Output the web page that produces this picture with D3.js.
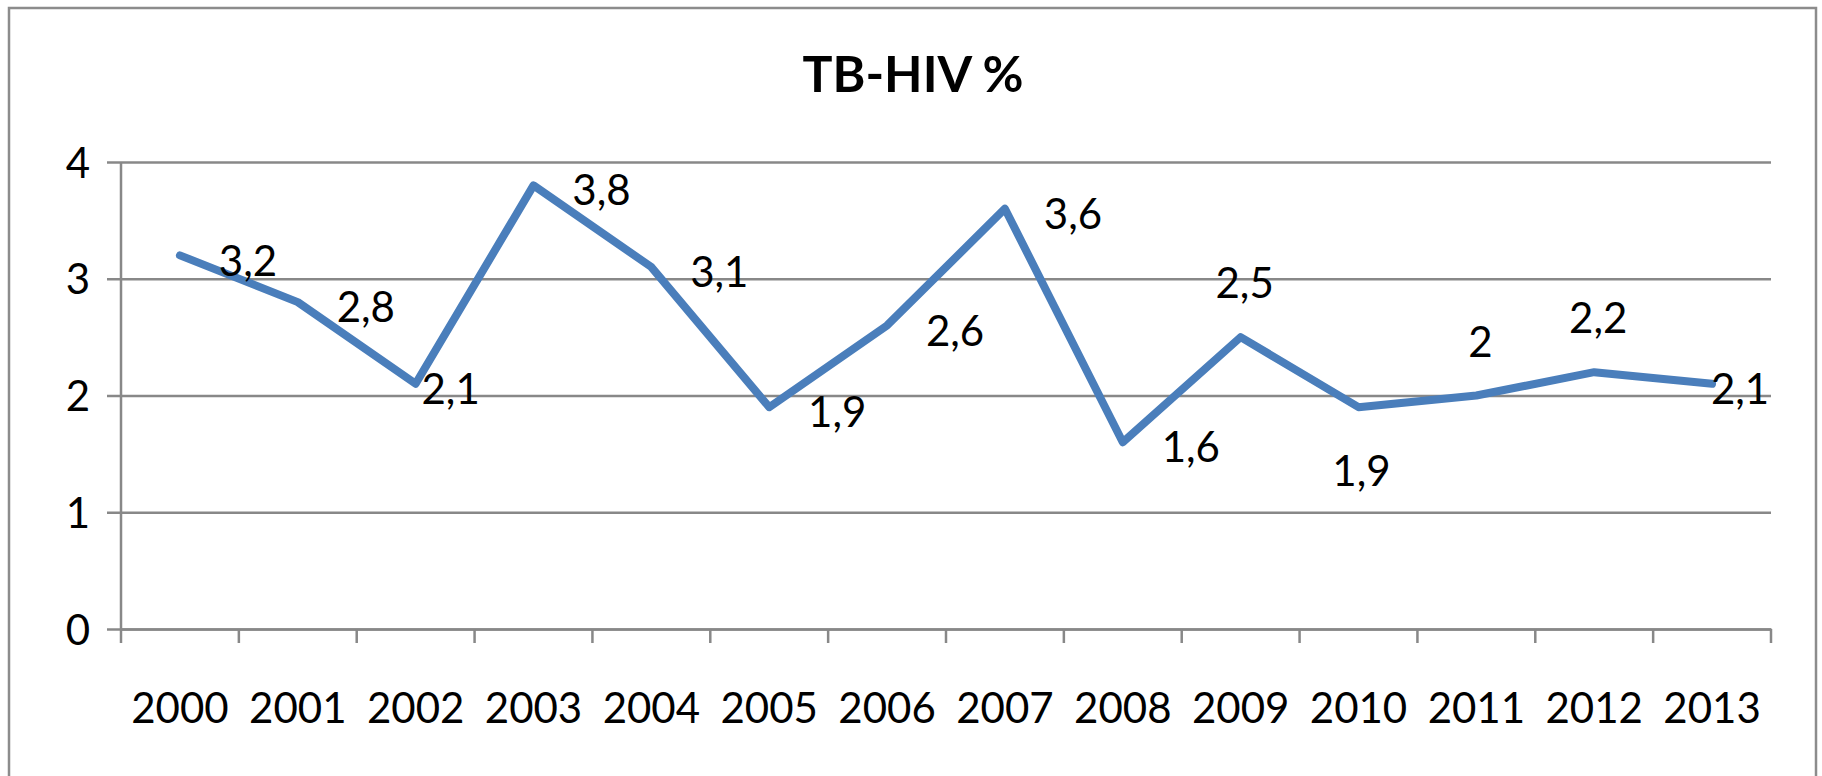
<!DOCTYPE html>
<html>
<head>
<meta charset="utf-8">
<script src="https://cdn.jsdelivr.net/npm/d3@7"></script>
<style>
  html, body { margin: 0; padding: 0; background: #fff; }
  svg { display: block; }
</style>
</head>
<body>
<svg id="chart" width="1822" height="776"></svg>
<script>
// ---- data ----
const title = "TB-HIV %";
const years = ["2000","2001","2002","2003","2004","2005","2006","2007","2008","2009","2010","2011","2012","2013"];
const values = [3.2, 2.8, 2.1, 3.8, 3.1, 1.9, 2.6, 3.6, 1.6, 2.5, 1.9, 2.0, 2.2, 2.1];
const yTicks = [0, 1, 2, 3, 4];
// data label placement codes: R = right, r = right (close), e = right (end), a = above, b = below
const labelPlacement = ["R","R","r","R","R","R","R","R","R","a","b","a","a","e"];

// ---- layout ----
const W = 1822, H = 776;
const plot = { left: 121, right: 1771, top: 162, bottom: 629 };
const font = "Lato, 'Open Sans', sans-serif";
const gridColor = "#888888";
const lineColor = "#4A7EBB";
const fontSize = 42;

const svg = d3.select("#chart");

// outer chart border (bottom edge lies below the visible frame)
svg.append("rect")
  .attr("x", 9).attr("y", 8)
  .attr("width", 1807).attr("height", 800)
  .attr("fill", "#fff")
  .attr("stroke", "#8c8c8c").attr("stroke-width", 2.5);

const x = d3.scaleBand().domain(years).range([plot.left, plot.right]).paddingInner(0).paddingOuter(0);
const y = d3.scaleLinear().domain([0, 4]).range([plot.bottom, plot.top]);

// gridlines + y axis
const yAxis = d3.axisLeft(y).tickValues(yTicks).tickFormat(d3.format("d"))
  .tickSize(-(plot.right - plot.left)).tickPadding(31);
const gy = svg.append("g").attr("transform", `translate(${plot.left},0)`).call(yAxis);
gy.select(".domain").remove();
gy.selectAll(".tick line").attr("stroke", gridColor).attr("stroke-width", 2.5).attr("x1", -14);
gy.selectAll(".tick text").attr("font-family", font).attr("font-size", fontSize).attr("fill", "#000")
  .attr("dy", "0.36em");

// y axis line
svg.append("line")
  .attr("x1", plot.left).attr("x2", plot.left)
  .attr("y1", plot.top).attr("y2", plot.bottom)
  .attr("stroke", gridColor).attr("stroke-width", 2.5);

// x axis
const gx = svg.append("g").attr("transform", `translate(0,${plot.bottom})`)
  .call(d3.axisBottom(x).tickSize(0).tickPadding(64));
gx.select(".domain").attr("stroke", gridColor).attr("stroke-width", 2.5);
gx.selectAll(".tick text").attr("font-family", font).attr("font-size", fontSize).attr("fill", "#000");

// x tick marks at category boundaries
const boundaries = years.map(d => x(d)).concat([x(years[years.length - 1]) + x.bandwidth()]);
svg.append("g").selectAll("line").data(boundaries).join("line")
  .attr("x1", d => d).attr("x2", d => d)
  .attr("y1", plot.bottom).attr("y2", plot.bottom + 14)
  .attr("stroke", gridColor).attr("stroke-width", 2.5);

// line series
const pts = years.map((yr, i) => ({ yr, v: values[i], p: labelPlacement[i] }));
const line = d3.line().x(d => x(d.yr) + x.bandwidth() / 2).y(d => y(d.v));
svg.append("path").datum(pts)
  .attr("d", line)
  .attr("fill", "none")
  .attr("stroke", lineColor)
  .attr("stroke-width", 8)
  .attr("stroke-linejoin", "round")
  .attr("stroke-linecap", "round");

// data labels
const offsets = { R: [68, 5], r: [35, 5], e: [28, 5], a: [4, -54], b: [3, 64] };
const fmt = v => String(v).replace(".", ",");
svg.append("g").selectAll("text").data(pts).join("text")
  .attr("x", d => x(d.yr) + x.bandwidth() / 2 + offsets[d.p][0])
  .attr("y", d => y(d.v) + offsets[d.p][1])
  .attr("text-anchor", "middle")
  .attr("dy", "0.36em")
  .attr("font-family", font).attr("font-size", fontSize).attr("fill", "#000")
  .text(d => fmt(d.v));

// title
svg.append("text")
  .attr("x", 913).attr("y", 92)
  .attr("text-anchor", "middle")
  .attr("font-family", font).attr("font-weight", "bold").attr("font-size", 50)
  .attr("fill", "#000")
  .text(title);
</script>
</body>
</html>
